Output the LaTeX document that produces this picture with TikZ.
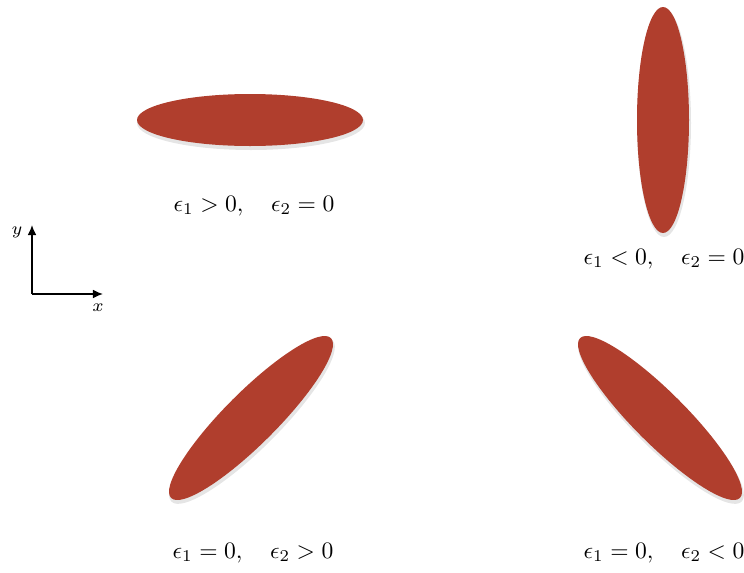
\documentclass[tikz,border=0pt]{standalone}
\usepackage{amsmath,amssymb}
\usepackage{tikz}
\usetikzlibrary{arrows.meta}

\definecolor{ellred}{RGB}{176,62,45}

\begin{document}
\begin{tikzpicture}[x=0.014cm,y=0.014cm,
  el/.style={fill=ellred},
  sh/.style={fill=black,opacity=0.10},
  lb/.style={inner sep=1pt,scale=0.94},
  ax/.style={semithick,-{Latex[length=4pt,width=3.5pt]}}]
  \useasboundingbox (0,0) rectangle (744,572);
  % ellipses: name/centre/angle
  \foreach \n/\px/\py/\ang in {a/250/452/0, b/663/452/90, c/251/154/45, d/660/154/-45} {
    \fill[sh] (\px+1,\py-3) ellipse [x radius=114, y radius=27, rotate=\ang];
    \fill[el] (\px,\py) ellipse [x radius=113, y radius=26, rotate=\ang];
  }
  \node[lb] (la) at (254,366) {$\epsilon_1 > 0, \quad \epsilon_2 = 0$};
  \node[lb] (lbb) at (664,313) {$\epsilon_1 < 0, \quad \epsilon_2 = 0$};
  \node[lb] (lc) at (253,19) {$\epsilon_1 = 0, \quad \epsilon_2 > 0$};
  \node[lb] (ld) at (664,19) {$\epsilon_1 = 0, \quad \epsilon_2 < 0$};
  % axes
  \coordinate (o) at (32,278);
  \coordinate (ye) at (32,347);
  \coordinate (xe) at (103,278);
  \draw[ax] (o) -- (ye);
  \draw[ax] (o) -- (xe);
  \node (ly) at (17,340) {\scriptsize $y$};
  \node (lx) at (98,264) {\scriptsize $x$};
\end{tikzpicture}
\end{document}
